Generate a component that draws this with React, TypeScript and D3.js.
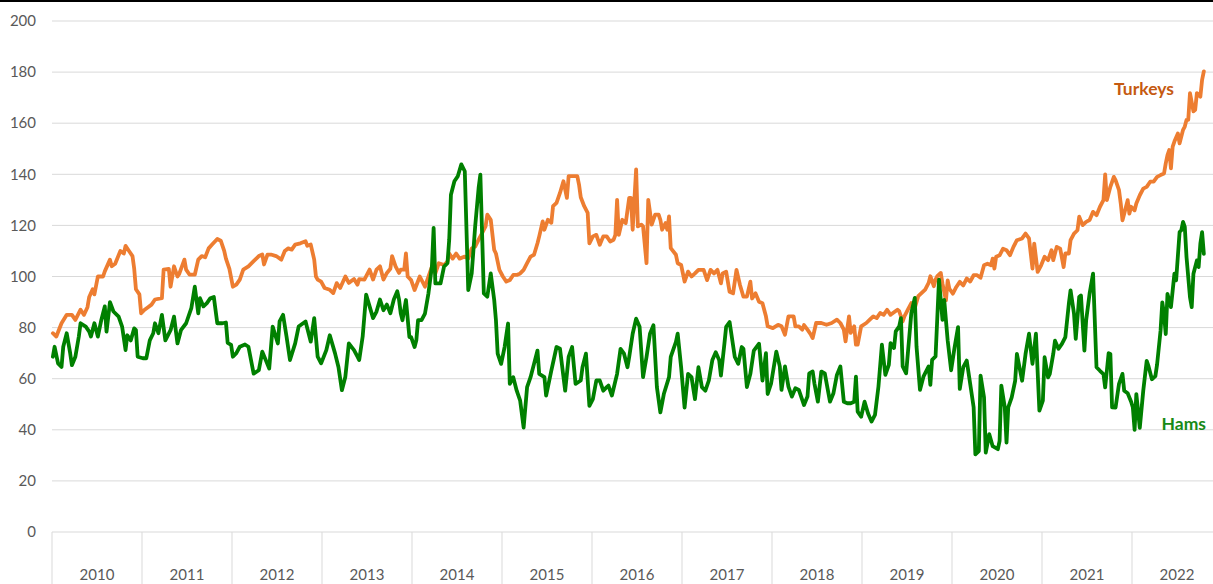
import React from "react";
import * as d3 from "d3";

// Weekly index since first week of 2010 (52 weeks per year), value
const turkeys: [number, number][] = [
  [0,77.8],[2,76.5],[5,81.7],[8,85],[11,85],[13,83],[16,87],[18,85],[20,88],[21,92],[23,95],[24,93],[26,100],[29,100],[30,102],[33,106.6],[34,104],[36,105],[39,110],[41,109],[42,112],[44,110],[46,108],[47,103],[48,95],[50,93],[51,85.6],
  [53,87],[55,88],[57,89],[59,91],[63,91.5],[64,102.7],[67,103],[68,96],[70,104],[72,100],[73,101],[76,106.6],[77,102.7],[79,100.7],[82,100.7],[84,106.6],[86,108],[88,107.5],[90,111],[92,112.5],[95,114.7],[97,114],[99,110],[100,107],[102,103],
  [104,96],[106,96.8],[108,98.8],[110,102.7],[113,104],[116,106],[119,108],[121,108.6],[122,104.7],[124,108.6],[126,108.6],[129,108],[132,106.6],[134,110],[136,111],[138,110.5],[140,112.5],[143,113],[146,113.8],[147,112],[149,112.5],[151,106.6],[152,100],[153,98.8],[155,98],
  [157,95.5],[160,94.8],[162,93.5],[164,97.4],[166,95.5],[169,100],[171,97.5],[174,99],[176,96.8],[177,99],[180,98.8],[183,102.7],[185,98.8],[187,102.7],[189,104],[191,98.8],[193,101.4],[195,103],[196,108],[198,104],[200,101.4],[201,102.7],[203,102.7],[204,109],[205,100],[207,98.6],
  [209,94.7],[212,100],[215,96],[217,100],[219,103.9],[221,101.2],[223,105.2],[226,104.5],[228,105.8],[229,109],[231,107],[233,109],[235,107],[238,107.8],[240,107],[242,111],[244,111.7],[246,114.4],[248,117],[250,119.6],[251,124.2],[253,122.2],[255,110.4],[256,109],[258,102.6],
  [260,100],[262,98],[264,98.6],[266,100.6],[268,100.6],[270,101.2],[272,102.6],[274,105.2],[276,107.8],[278,108.5],[280,113],[281,115.7],[283,121.6],[284,118.3],[286,122.2],[288,121],[289,127.5],[291,128.8],[293,132.7],[295,137.3],[297,130.8],[298,139.3],[301,139.3],[303,139.3],[304,136],[305,131],[307,127.5],[309,124.9],[310,113],
  [312,115.7],[314,116.3],[316,112.4],[318,115.7],[320,115.7],[322,113.7],[324,114.4],[325,116.3],[326,130],[327,116.3],[329,122.2],[331,120.9],[333,130.8],[334,130.8],[335,118.3],[337,141.9],[338,119.6],[340,120.3],[341,119.6],[343,105.2],[344,130],[346,120.3],[348,124.2],[350,124.2],[351,122.2],[352,118.3],[354,120.9],[355,118.3],[356,123.5],[357,111.1],[360,108.5],[361,105.2],[363,104.5],
  [365,98],[367,101.9],[369,100],[371,101.2],[373,102.6],[376,102.6],[378,98.6],[380,102.6],[382,101.2],[384,102.6],[386,97.3],[387,101.2],[389,101.9],[391,94],[393,93.4],[395,102.6],[397,96.7],[399,92.1],[401,92.1],[403,98],[404,91.4],[406,93.4],[408,90.1],[410,89.5],[412,84.4],[413,80.5],
  [416,79.8],[419,81.1],[421,80.5],[423,77.2],[425,84.4],[428,84.4],[429,80.5],[431,80.5],[433,79.2],[434,81],[436,79.2],[438,77.2],[439,75.9],[441,81.8],[444,81.8],[447,81.1],[450,81.8],[453,83.1],[455,81.8],[457,79.2],[458,74.6],[460,84.4],[461,77.9],[463,80.5],[464,73.3],[465,73.3],[467,80.5],
  [470,81.8],[472,83.1],[474,84.4],[476,83.7],[478,85.7],[480,85],[482,87],[484,85],[486,86],[488,87],[489,86.4],[491,82.4],[492,84.4],[494,87],[496,89.6],[498,87.7],[500,92.3],[502,93.6],[504,94.9],[506,97.5],[507,100.1],[509,96.2],[510,98.8],[511,100.1],[513,101.4],[514,97.2],[516,90.7],[517,98.5],[518,95.2],
  [520,93.3],[522,95.9],[524,97.9],[526,96.5],[528,99.2],[530,98],[532,100.5],[534,100.5],[536,99.5],[538,104.4],[540,105],[542,104.4],[543,107],[544,103.1],[545,107.7],[547,108.3],[549,110.9],[551,110.3],[553,108.3],[555,111.6],[557,114.2],[560,114.9],[562,116.8],[564,114.9],[566,103.1],[567,112.9],[569,101.8],[571,104.4],
  [573,107.7],[575,106.4],[577,110.3],[578,106.4],[580,111.6],[582,110.9],[584,103.7],[585,109],[587,109],[588,114.2],[590,116.8],[592,118.1],[593,123.4],[595,120.1],[597,121.4],[599,122.1],[601,125.3],[603,124],[605,127.3],[607,129.9],[608,140],[609,129.9],[611,135.1],[613,139],[614,137.7],[616,133.8],[617,128.6],[618,122],[619,124.6],[621,129.9],[622,124.6],[623,127.3],
  [625,125.9],[626,128.6],[628,131.8],[630,134.4],[632,135.1],[634,137.1],[636,137.1],[638,139],[640,139.7],[642,140.3],[643,144.3],[644,147.5],[645,149.5],[646,142.3],[647,150.8],[648,152.8],[650,156],[651,152.1],[653,157.4],[654,158.7],[655,161.3],[656,161.3],[657,171.8],[659,164.6],[660,165.2],[661,171.8],[663,170.4],[664,177],[665,180.3],
];

const hams: [number, number][] = [
  [0,68.6],[1,72.5],[3,66],[5,64.6],[6,72.5],[8,77.8],[10,70],[11,65.3],[13,68.6],[15,76.5],[16,81.7],[19,80.4],[21,78.4],[22,76.5],[24,81.7],[26,76.5],[28,83],[30,88.3],[31,78.4],[33,90],[35,86.3],[38,84.3],[40,80.4],[42,71.2],[43,77],[45,75],[47,79.7],[48,79],[49,68.6],
  [52,68],[54,68],[56,75],[58,77.8],[59,81.7],[61,77.8],[63,85],[65,75],[68,79],[70,84.3],[72,73.8],[74,79],[77,81.7],[80,87.6],[82,96],[84,85.6],[85,91.5],[87,88.3],[89,89.6],[91,91.5],[93,92],[95,81.7],[98,81.7],[100,82],[101,74],
  [103,73.2],[104,68.6],[106,70],[108,72.5],[111,73.4],[113,72.5],[116,62],[119,63.3],[121,70.6],[125,64],[127,80.4],[130,73.8],[131,82.4],[133,85],[135,76.5],[137,67.3],[140,73.8],[142,80.4],[146,82.4],[149,74.5],[151,83.7],[153,68.6],[155,66],
  [158,71.2],[160,77],[163,70],[165,64.6],[167,55.5],[169,60.8],[171,73.8],[174,71.2],[176,68.6],[177,67.3],[179,76.5],[181,92.9],[183,88.3],[185,83.7],[187,86.3],[189,91],[191,86.8],[193,89],[195,85.6],[197,91],[199,94.2],[200,91],[201,85.6],[202,82.9],[204,90.8],[206,76.3],[207,76.3],
  [209,72.4],[210,75],[211,82.9],[213,82.9],[215,85.5],[217,93.4],[219,103.9],[220,119],[221,97.3],[224,97.3],[226,103.9],[228,105.2],[229,114.4],[230,132],[232,137.3],[234,139.3],[236,143.9],[238,141.2],[240,94.7],[242,101.2],[244,119.6],[246,134.7],[247,139.9],[249,93.4],[251,92.1],[253,101.2],[255,90.8],[256,82.9],[257,69.8],[259,65.8],
  [261,72.4],[263,81.6],[264,58],[266,60.6],[268,55.3],[270,51.4],[272,40.9],[274,56.7],[276,60.6],[278,65.8],[280,71],[281,61.9],[284,60.6],[285,53.4],[288,63.2],[291,72.4],[293,71.7],[296,55.3],[298,68.5],[300,72.4],[302,58],[305,59.3],[306,64.5],[308,69.8],[310,49.4],
  [312,52],[314,59.3],[316,59.3],[318,55.3],[320,56.7],[321,57.3],[323,53.4],[326,61.9],[328,71.7],[330,69.8],[332,64.5],[333,68.5],[335,77.6],[337,83.5],[339,80.3],[341,60.6],[343,68.5],[345,77.6],[347,80.9],[349,56.7],[351,46.8],[353,54],[356,60.6],[357,68.5],[360,74.4],[361,77.6],[363,64.5],
  [365,48.7],[367,61.9],[369,60.6],[371,52],[373,64.5],[375,56.7],[377,55.3],[379,59.3],[381,67.2],[383,70.4],[385,67.2],[386,61.2],[388,73.7],[389,80.3],[391,82.2],[394,68.5],[396,65.8],[398,72.4],[399,71.7],[401,56.7],[403,61.9],[405,71],[408,73.7],[410,59.3],[412,70],[413,54],[415,58.2],
  [418,70.6],[420,64.8],[421,55.6],[423,64.8],[425,56.9],[427,53],[429,56.3],[431,55.6],[434,49.7],[436,53],[437,62.1],[439,62.8],[440,58.2],[442,51],[444,62.8],[446,62.1],[449,51],[451,54.3],[453,61.5],[455,64.8],[457,51],[459,50.4],[461,50.4],[463,51],[464,60.8],[465,47.1],[467,45.1],
  [469,51],[471,46.4],[473,43.2],[475,45.8],[477,56.9],[479,73.3],[481,61.5],[483,65.4],[484,73.9],[486,72],[487,78.5],[489,80.5],[490,83.7],[491,64.8],[493,62.1],[496,85.7],[498,91.6],[499,72.6],[501,55.6],[503,60.8],[506,64.8],[507,57.6],[508,67.4],[510,68.7],
  [512,98.8],[514,83],[515,90.8],[517,75],[519,63.3],[521,72.3],[523,80.2],[524,56],[526,64.5],[528,67.1],[530,58],[532,48.8],[533,30.4],[535,31.7],[536,61.2],[538,52.7],[539,31.1],[541,38.3],[543,33.6],[546,32.4],[547,35.7],[548,57.3],[550,48.8],[551,35],[552,48.8],[554,52.7],[556,59.2],[557,69.7],[560,59.2],[562,69.7],[564,77.6],[566,65.8],[568,77.6],[570,47.5],
  [572,51.4],[573,68.4],[575,60.5],[576,61.9],[578,69.7],[579,74.9],[581,71.7],[583,73.6],[585,76.3],[587,89.3],[588,94.6],[590,85.4],[591,75.6],[593,92],[594,92.6],[596,71],[597,82.8],[599,93.3],[601,101.1],[603,64.5],[605,63.1],[607,61.8],[608,56.6],[610,70],[611,69.7],[612,48.8],[614,48.7],[616,58],[618,61.9],[619,55.3],[621,54.3],[623,51],
  [624,48.7],[625,40],[626,54],[628,40.8],[630,55.3],[632,67],[633,65],[635,59.8],[637,61],[638,65.6],[640,78.8],[641,89.9],[642,85.3],[643,77.5],[644,93.2],[646,88],[647,94.5],[648,101.1],[649,98.5],[651,117.4],[652,118.1],[653,121.4],[654,119.4],[655,107.6],[657,91.9],[658,88],[659,101.1],[661,106.3],[662,103.7],[663,112.9],[664,117.4],[665,108.9],
];

const years = ["2010","2011","2012","2013","2014","2015","2016","2017","2018","2019","2020","2021","2022"];
const yTicks = [0, 20, 40, 60, 80, 100, 120, 140, 160, 180, 200];
const WEEKS_PER_YEAR = 52;

export default function App() {
  const W = 1213, H = 584;
  const left = 52, yearWidth = 90;
  const top = 21, bottom = 532;
  const x = d3.scaleLinear().domain([0, years.length * WEEKS_PER_YEAR]).range([left, left + yearWidth * years.length]);
  const y = d3.scaleLinear().domain([0, 200]).range([bottom, top]);
  const line = d3.line<[number, number]>().x(d => x(d[0] + 0.5)).y(d => y(d[1]));
  const font = "Lato, 'Open Sans', sans-serif";
  return (
    <svg width={W} height={H} style={{ position: "absolute", left: 0, top: 0, background: "#fff" }} fontFamily={font}>
      <rect x={0} y={0} width={W} height={2} fill="#000" />
      {yTicks.map(t => (
        <g key={t}>
          <line x1={left} x2={W} y1={y(t)} y2={y(t)} stroke="#D9D9D9" strokeWidth={1} />
          <text x={36} y={y(t)} dy="0.35em" textAnchor="end" fontSize={15} fill="#595959">{t}</text>
        </g>
      ))}
      {years.map((yr, i) => {
        const x0 = x(i * WEEKS_PER_YEAR);
        const x1 = x((i + 1) * WEEKS_PER_YEAR);
        return (
          <g key={yr}>
            <line x1={x0} x2={x0} y1={bottom} y2={H} stroke="#D9D9D9" strokeWidth={1} />
            <text x={(x0 + x1) / 2} y={579.5} textAnchor="middle" fontSize={15} fill="#595959">{yr}</text>
          </g>
        );
      })}
      <path d={line(turkeys) || ""} fill="none" stroke="#ED7D31" strokeWidth={3.8} strokeLinejoin="round" strokeLinecap="round" />
      <path d={line(hams) || ""} fill="none" stroke="#008000" strokeWidth={3.8} strokeLinejoin="round" strokeLinecap="round" />
      <text x={1174} y={95} textAnchor="end" fontSize={17.5} fontWeight="bold" fill="#C55A11">Turkeys</text>
      <text x={1206} y={430} textAnchor="end" fontSize={17.5} fontWeight="bold" fill="#178A17">Hams</text>
    </svg>
  );
}
